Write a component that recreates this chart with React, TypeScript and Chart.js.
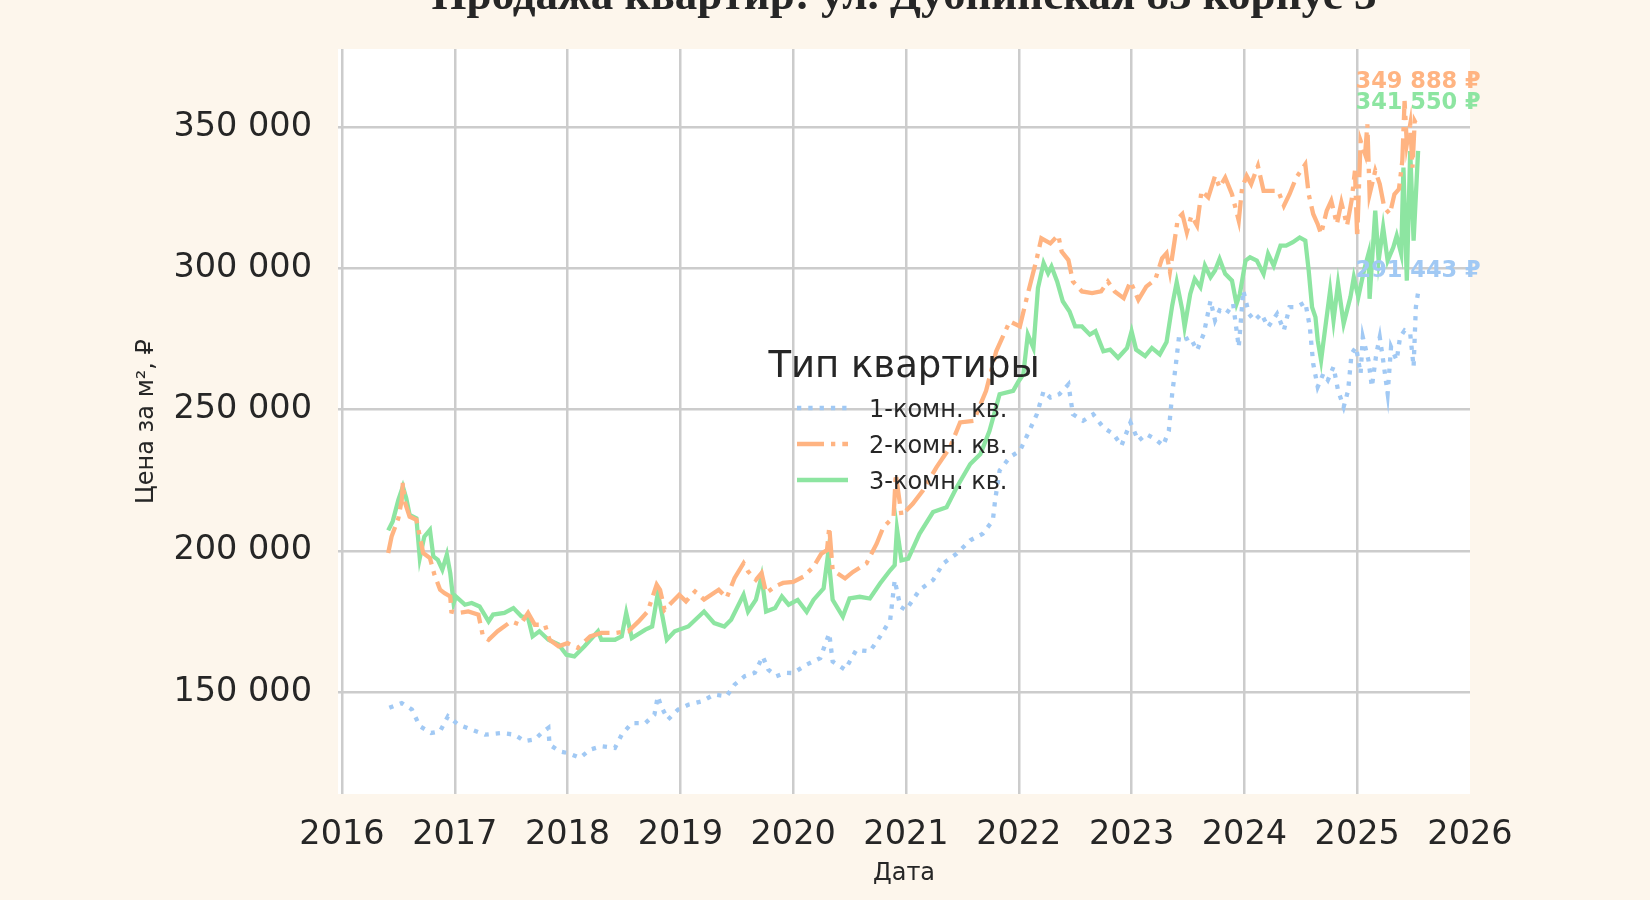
import React, { useEffect, useRef } from 'react';
import { Chart, registerables } from 'chart.js';

Chart.register(...registerables);

const TITLE = 'Продажа квартир: ул. Дубнинская 83 корпус 3';
const LEGEND_TITLE = 'Тип квартиры';
const SERIES_NAMES = ['1-комн. кв.', '2-комн. кв.', '3-комн. кв.'];
const X_TITLE = 'Дата';
const Y_TITLE = 'Цена за м², ₽';

const YEAR_TICKS = [2016, 2017, 2018, 2019, 2020, 2021, 2022, 2023, 2024, 2025, 2026];
const PRICE_TICKS = [150000, 200000, 250000, 300000, 350000];

// dates as decimal years, prices in ₽ per m²
const ONE_ROOM_DATES = [
  2016.42, 2016.53, 2016.62, 2016.69, 2016.79, 2016.87, 2016.94, 2017.03, 2017.15, 2017.27,
  2017.41, 2017.53, 2017.62, 2017.71, 2017.77, 2017.83, 2017.84, 2017.93, 2018.0, 2018.11,
  2018.2, 2018.3, 2018.42, 2018.48, 2018.57, 2018.69, 2018.77, 2018.8, 2018.83, 2018.89,
  2018.98, 2019.07, 2019.19, 2019.3, 2019.41, 2019.48, 2019.57, 2019.66, 2019.73, 2019.78,
  2019.85, 2019.93, 2020.0, 2020.12, 2020.24, 2020.32, 2020.35, 2020.46, 2020.56, 2020.68,
  2020.77, 2020.86, 2020.9, 2020.95, 2021.0, 2021.12, 2021.24, 2021.33, 2021.45, 2021.57,
  2021.68, 2021.77, 2021.79, 2021.83, 2021.92, 2022.01, 2022.08, 2022.16, 2022.22, 2022.28,
  2022.36, 2022.44, 2022.48, 2022.57, 2022.66, 2022.75, 2022.84, 2022.91, 2022.99, 2023.06,
  2023.13, 2023.21, 2023.28, 2023.33, 2023.36, 2023.39, 2023.42, 2023.46, 2023.52, 2023.58,
  2023.64, 2023.7, 2023.74, 2023.78, 2023.84, 2023.9, 2023.95, 2023.99, 2024.04, 2024.09,
  2024.15, 2024.21, 2024.29, 2024.35, 2024.4, 2024.46, 2024.54, 2024.58, 2024.61, 2024.65,
  2024.7, 2024.74, 2024.79, 2024.83, 2024.88, 2024.92, 2024.95, 2024.99, 2025.03, 2025.05,
  2025.1, 2025.13, 2025.17, 2025.2, 2025.23, 2025.27, 2025.3, 2025.35, 2025.38, 2025.42,
  2025.47, 2025.5, 2025.52, 2025.54,
];
const ONE_ROOM_PRICES = [
  144400, 146100, 143800, 137900, 135500, 136100, 141400, 138500, 136700, 134900,
  135500, 134900, 132600, 133200, 135500, 137300, 131400, 129000, 128400, 126700,
  129600, 130800, 130200, 134900, 139000, 139000, 142000, 148500, 144900, 140200,
  143800, 145500, 146700, 149100, 148500, 152600, 155600, 156800, 162600, 157900,
  155600, 156800, 156700, 159700, 162000, 170800, 160800, 157900, 164900, 164400,
  169600, 175500, 189600, 180200, 179000, 186100, 189600, 195500, 199000, 203700,
  206000, 210700, 217800, 228400, 233100, 235400, 241300, 248300, 256500, 254200,
  255400, 258900, 248300, 246000, 248300, 243600, 241300, 237200, 245400, 238900,
  241300, 239500, 237200, 242400, 255600, 265100, 275600, 274500, 275600, 270900,
  276800, 288600, 281500, 285100, 283900, 287400, 272100, 292100, 283900, 281500,
  283900, 279200, 283900, 278000, 286200, 286200, 288000, 279200, 266200, 258000,
  262700, 260400, 265100, 256800, 250900, 256800, 269800, 272100, 262700, 275600,
  267400, 258000, 269800, 275600, 267400, 255600, 272100, 267400, 275600, 278000,
  276800, 265100, 286200, 291443,
];

const TWO_ROOM_DATES = [
  2016.41, 2016.44, 2016.5, 2016.53, 2016.54, 2016.56, 2016.6, 2016.66, 2016.72, 2016.78,
  2016.82, 2016.87, 2016.91, 2016.96, 2016.97, 2017.03, 2017.12, 2017.21, 2017.25, 2017.3,
  2017.38, 2017.5, 2017.58, 2017.65, 2017.71, 2017.8, 2017.84, 2017.92, 2018.0, 2018.09,
  2018.2, 2018.3, 2018.42, 2018.54, 2018.63, 2018.71, 2018.79, 2018.82, 2018.86, 2018.99,
  2019.05, 2019.13, 2019.21, 2019.34, 2019.41, 2019.48, 2019.56, 2019.6, 2019.67, 2019.72,
  2019.76, 2019.84, 2019.91, 2020.0, 2020.09, 2020.18, 2020.25, 2020.3, 2020.32, 2020.35,
  2020.46, 2020.53, 2020.65, 2020.74, 2020.8, 2020.89, 2020.91, 2020.96, 2021.06, 2021.15,
  2021.27, 2021.39, 2021.48, 2021.6, 2021.71, 2021.8, 2021.92, 2022.01, 2022.07, 2022.16,
  2022.2, 2022.28, 2022.35, 2022.38, 2022.44, 2022.48, 2022.56, 2022.65, 2022.73, 2022.79,
  2022.85, 2022.93, 2022.99, 2023.06, 2023.13, 2023.21, 2023.27, 2023.31, 2023.34, 2023.38,
  2023.41, 2023.45, 2023.49, 2023.53, 2023.58, 2023.62, 2023.68, 2023.74, 2023.78, 2023.83,
  2023.89, 2023.95, 2023.98, 2024.02, 2024.06, 2024.12, 2024.17, 2024.23, 2024.3, 2024.35,
  2024.4, 2024.46, 2024.54, 2024.57, 2024.61, 2024.65, 2024.68, 2024.73, 2024.77, 2024.82,
  2024.86, 2024.91, 2024.95, 2024.98, 2025.0, 2025.03, 2025.07, 2025.09, 2025.11, 2025.16,
  2025.2, 2025.24, 2025.29, 2025.33, 2025.37, 2025.4, 2025.42, 2025.44, 2025.47, 2025.49,
  2025.51, 2025.54,
];
const TWO_ROOM_PRICES = [
  199200, 205000, 211500, 218000, 224000, 216900, 212100, 211000, 199200, 197400,
  191500, 186200, 185000, 183800, 178500, 178000, 178500, 177400, 169700, 168500,
  171500, 175000, 173800, 178000, 173800, 173800, 168500, 166200, 167300, 165600,
  169700, 170900, 170900, 171500, 175000, 178500, 188000, 186200, 179100, 184400,
  182100, 185600, 182700, 186200, 183300, 190300, 195600, 192700, 189700, 192100,
  185000, 187400, 188600, 189000, 190800, 194300, 199000, 200200, 208400, 193100,
  190200, 192500, 195500, 202500, 208400, 211900, 227200, 212500, 216600, 221300,
  229500, 236600, 245400, 246000, 256600, 270600, 281200, 279400, 289400, 303500,
  310600, 308800, 311700, 305900, 302900, 295300, 291800, 291200, 291800, 295300,
  291800, 289400, 295300, 288800, 293500, 296000, 303500, 305300, 298800, 309400,
  317600, 319200, 312700, 318600, 315100, 327400, 325100, 332700, 328600, 332100,
  326200, 316800, 328600, 332700, 329800, 336200, 327400, 327400, 327400, 322100,
  326200, 332100, 336800, 326200, 319200, 315600, 312100, 320400, 323900, 315600,
  323300, 315100, 323900, 334500, 310900, 345100, 340400, 350900, 326200, 334500,
  329800, 321500, 319200, 326200, 328000, 338000, 359200, 343900, 350900, 335600,
  352100, 349888,
];

const THREE_ROOM_DATES = [
  2016.41, 2016.45, 2016.5, 2016.54, 2016.57, 2016.6, 2016.66, 2016.69, 2016.73, 2016.78,
  2016.81, 2016.85, 2016.89, 2016.93, 2016.96, 2016.99, 2017.01, 2017.09, 2017.15, 2017.22,
  2017.3, 2017.34, 2017.44, 2017.52, 2017.59, 2017.65, 2017.69, 2017.75, 2017.83, 2017.92,
  2017.99, 2018.06, 2018.15, 2018.27, 2018.3, 2018.42, 2018.48, 2018.52, 2018.57, 2018.69,
  2018.75, 2018.8, 2018.83, 2018.88, 2018.95, 2019.07, 2019.21, 2019.3, 2019.39, 2019.45,
  2019.56, 2019.6, 2019.67, 2019.72, 2019.76, 2019.84, 2019.9, 2019.96, 2020.04, 2020.12,
  2020.18, 2020.27, 2020.31, 2020.35, 2020.44, 2020.5, 2020.59, 2020.68, 2020.77, 2020.86,
  2020.9, 2020.92, 2020.96, 2021.02, 2021.12, 2021.24, 2021.36, 2021.45, 2021.57, 2021.66,
  2021.74, 2021.83, 2021.95, 2022.0, 2022.04, 2022.08, 2022.13, 2022.17, 2022.22, 2022.26,
  2022.29, 2022.34, 2022.39, 2022.45, 2022.5, 2022.56, 2022.63, 2022.68, 2022.75, 2022.81,
  2022.88, 2022.96, 2023.0, 2023.04, 2023.12, 2023.18, 2023.25, 2023.31, 2023.36, 2023.4,
  2023.45, 2023.47, 2023.52, 2023.56, 2023.61, 2023.65, 2023.7, 2023.74, 2023.78, 2023.83,
  2023.89, 2023.93, 2023.96, 2024.01, 2024.05, 2024.11, 2024.17, 2024.21, 2024.26, 2024.32,
  2024.37, 2024.43, 2024.49, 2024.54, 2024.57, 2024.6, 2024.63, 2024.65, 2024.68, 2024.71,
  2024.76, 2024.79, 2024.83, 2024.88, 2024.94, 2024.97, 2025.01, 2025.06, 2025.1, 2025.11,
  2025.16, 2025.19, 2025.23, 2025.27, 2025.32, 2025.35, 2025.39, 2025.41, 2025.44, 2025.47,
  2025.5, 2025.54,
];
const THREE_ROOM_PRICES = [
  207200, 210400, 218000, 222700, 218600, 212700, 211500, 197400, 205000, 207400,
  198000, 196800, 193300, 198600, 192100, 181500, 183800, 180900, 181500, 180300,
  175000, 177400, 178000, 179700, 176800, 176200, 169700, 171500, 168500, 166800,
  163200, 162600, 166200, 171500, 168500, 168500, 169700, 178000, 169100, 172100,
  173200, 185000, 179100, 168500, 171500, 173200, 178500, 174400, 173200, 175600,
  184400, 178500, 182700, 190900, 178500, 179700, 183800, 180900, 182600, 178400,
  182600, 186700, 199000, 182600, 176700, 183100, 183700, 183100, 188400, 193100,
  194900, 207800, 196600, 197200, 206000, 213700, 215400, 222500, 230700, 234200,
  242400, 255400, 256600, 260100, 262400, 276500, 271800, 293000, 301800, 298200,
  300600, 295300, 288300, 284700, 279400, 279400, 276500, 277700, 270600, 271200,
  268300, 271800, 277700, 271200, 268900, 271800, 269500, 273900, 286800, 295100,
  285100, 279200, 290900, 296200, 293300, 300900, 296800, 299200, 303300, 298000,
  295600, 287400, 290900, 302700, 303900, 302700, 298000, 305100, 300900, 308000,
  308000, 309200, 310900, 309800, 299200, 286200, 282700, 274500, 267400, 276800,
  292100, 281500, 294500, 280400, 289800, 296800, 289800, 299200, 305100, 289200,
  320400, 302700, 314500, 302700, 307400, 311500, 305100, 335600, 295600, 341500,
  309800, 341550,
];

const COLORS = ['#a1c9f4', '#ffb482', '#8de5a1'];
const LINE_W = 4.3;
const DASHES = [[4.3, 7], [27, 7, 4.3, 7], []];
const LABEL_LIFT = [21, 45, 48];
const BG = '#fdf6ec';
const TEXT = '#262626';
const FONT = '"DejaVu Sans", sans-serif';

const fmt = (v: number) => Math.round(v).toString().replace(/\B(?=(\d{3})+(?!\d))/g, ' ');

const App: React.FC = () => {
  const canvasRef = useRef<HTMLCanvasElement>(null);

  useEffect(() => {
    document.body.style.margin = '0';
    if (!canvasRef.current) return;

    const series = [
      [ONE_ROOM_DATES, ONE_ROOM_PRICES],
      [TWO_ROOM_DATES, TWO_ROOM_PRICES],
      [THREE_ROOM_DATES, THREE_ROOM_PRICES],
    ];

    const datasets = series.map(([dates, prices], i) => ({
      label: SERIES_NAMES[i],
      data: dates.map((d, k) => ({ x: d, y: prices[k] })),
      borderColor: COLORS[i],
      borderWidth: LINE_W,
      borderDash: DASHES[i],
      pointRadius: 0,
      tension: 0,
      fill: false,
    }));

    const decor = {
      id: 'decor',
      beforeDraw(chart: any) {
        const { ctx, chartArea: a } = chart;
        ctx.save();
        ctx.fillStyle = BG;
        ctx.fillRect(0, 0, chart.width, chart.height);
        ctx.fillStyle = '#ffffff';
        ctx.fillRect(a.left, a.top, a.right - a.left, a.bottom - a.top);
        ctx.restore();
      },
      afterDatasetsDraw(chart: any) {
        const { ctx, chartArea: a, scales } = chart;
        ctx.save();
        // last-value labels
        ctx.font = `bold 22.5px ${FONT}`;
        ctx.textAlign = 'center';
        ctx.textBaseline = 'middle';
        series.forEach(([dates, prices], i) => {
          const x = scales.x.getPixelForValue(dates[dates.length - 1]);
          const y = scales.y.getPixelForValue(prices[prices.length - 1]) - LABEL_LIFT[i];
          ctx.fillStyle = COLORS[i];
          ctx.fillText(`${fmt(prices[prices.length - 1])} ₽`, x, y);
        });
        // legend
        const cx = (a.left + a.right) / 2;
        ctx.fillStyle = TEXT;
        ctx.textBaseline = 'alphabetic';
        ctx.font = `37px ${FONT}`;
        ctx.fillText(LEGEND_TITLE, cx, 377);
        ctx.textAlign = 'left';
        ctx.font = `24px ${FONT}`;
        SERIES_NAMES.forEach((name, i) => {
          const base = 417 + i * 36;
          ctx.beginPath();
          ctx.strokeStyle = COLORS[i];
          ctx.lineWidth = LINE_W;
          ctx.setLineDash(DASHES[i]);
          ctx.moveTo(cx - 107, base - 9);
          ctx.lineTo(cx - 56, base - 9);
          ctx.stroke();
          ctx.fillStyle = TEXT;
          ctx.fillText(name, cx - 35, base);
        });
        ctx.restore();
      },
      afterDraw(chart: any) {
        const { ctx, chartArea: a } = chart;
        ctx.save();
        ctx.fillStyle = TEXT;
        ctx.font = 'bold 45px "Liberation Serif", serif';
        ctx.textAlign = 'center';
        ctx.textBaseline = 'alphabetic';
        ctx.fillText(TITLE, (a.left + a.right) / 2, 9);
        ctx.restore();
      },
    };

    const chart = new Chart(canvasRef.current, {
      type: 'line',
      data: { datasets },
      plugins: [decor],
      options: {
        responsive: false,
        animation: false,
        layout: { padding: { top: 49, right: 180, bottom: 0, left: 0 } },
        plugins: { legend: { display: false }, tooltip: { enabled: false }, title: { display: false } },
        scales: {
          x: {
            type: 'linear',
            min: 2015.965,
            max: 2026,
            afterBuildTicks: (axis: any) => { axis.ticks = YEAR_TICKS.map((v) => ({ value: v })); },
            afterFit: (axis: any) => { axis.height = 106; },
            ticks: {
              color: TEXT,
              font: { family: 'DejaVu Sans', size: 33.5 },
              padding: 21,
              maxRotation: 0,
              autoSkip: false,
              callback: (v: any) => String(v),
            },
            grid: {
              color: (c: any) => (c.tick && c.tick.value >= 2026 ? 'rgba(0,0,0,0)' : '#cccccc'),
              lineWidth: 2.5,
              drawTicks: false,
            },
            border: { display: false },
            title: {
              display: true,
              text: X_TITLE,
              color: TEXT,
              font: { family: 'DejaVu Sans', size: 24 },
              padding: { top: 0, bottom: 12 },
            },
          },
          y: {
            type: 'linear',
            min: 113900,
            max: 377600,
            afterBuildTicks: (axis: any) => { axis.ticks = PRICE_TICKS.map((v) => ({ value: v })); },
            afterFit: (axis: any) => { axis.width = 338; },
            ticks: {
              color: TEXT,
              font: { family: 'DejaVu Sans', size: 33.5 },
              padding: 26,
              callback: (v: any) => fmt(Number(v)),
            },
            grid: { color: '#cccccc', lineWidth: 2.5, drawTicks: false },
            border: { display: false },
            title: {
              display: true,
              text: Y_TITLE,
              color: TEXT,
              font: { family: 'DejaVu Sans', size: 24 },
              padding: { top: 132, bottom: 0 },
            },
          },
        },
      },
    });

    return () => chart.destroy();
  }, []);

  return (
    <div style={{ width: 1650, height: 900, background: BG }}>
      <canvas ref={canvasRef} width={1650} height={900} style={{ display: 'block' }} />
    </div>
  );
};

export default App;
